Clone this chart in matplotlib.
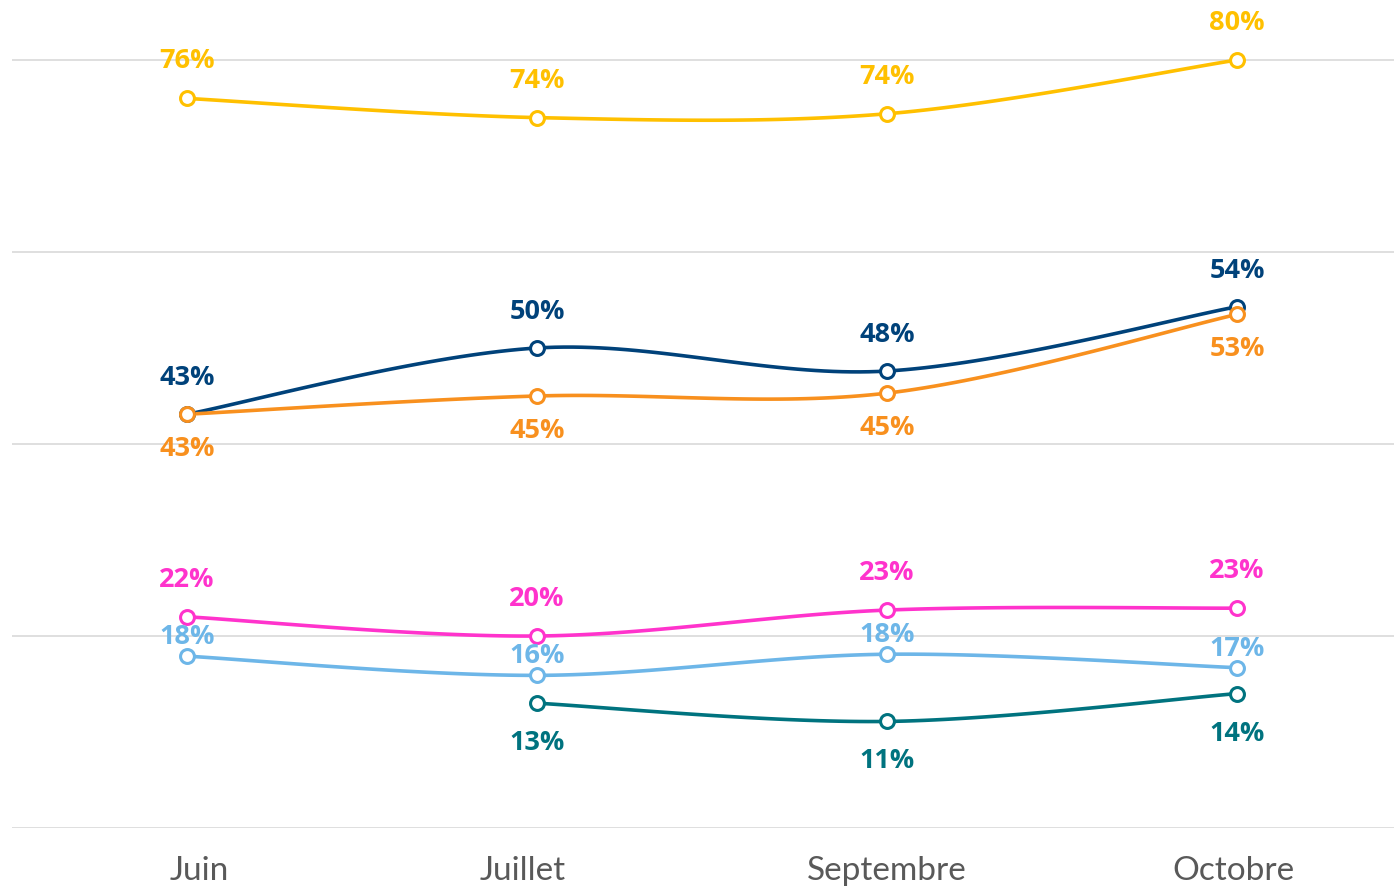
import matplotlib.pyplot as plt
import numpy as np

months = ["Juin", "Juillet", "Septembre", "Octobre"]

yellow_vals = [76.0, 74.0, 74.4, 80.0]
navy_vals = [43.1, 50.0, 47.6, 54.3]
orange_vals = [43.1, 45.0, 45.3, 53.5]
pink_vals = [22.0, 20.0, 22.7, 22.9]
lightblue_vals = [17.9, 15.9, 18.1, 16.7]
teal_vals = [None, 13.0, 11.1, 14.0]

yellow_labels = ["76%", "74%", "74%", "80%"]
navy_labels = ["43%", "50%", "48%", "54%"]
orange_labels = ["43%", "45%", "45%", "53%"]
pink_labels = ["22%", "20%", "23%", "23%"]
lightblue_labels = ["18%", "16%", "18%", "17%"]
teal_labels = [None, "13%", "11%", "14%"]

series = [
    (yellow_vals, yellow_labels, "#FFC000", 37),
    (navy_vals, navy_labels, "#00427A", 36),
    (orange_vals, orange_labels, "#F8901E", -35),
    (pink_vals, pink_labels, "#FF33CC", 37),
    (lightblue_vals, lightblue_labels, "#6DB6E8", 19),
    (teal_vals, teal_labels, "#00737F", -40),
]

plt.rcParams['font.family'] = ['Lato', 'DejaVu Sans']

W, H = 1394, 891
fig = plt.figure(figsize=(W / 100, H / 100), dpi=100)
ax = fig.add_axes([12 / W, (H - 828) / H, 1400 / W, 828 / H])
ax.set_xlim(-0.5, 3.5)
ax.set_ylim(0, 828 / 9.6)

# px scale used for excel-like smoothing
sx, sy = 350.0, 9.6


def smooth(xs, ys, n=40):
    px = np.array(xs) * sx
    py = np.array(ys) * sy
    pts = np.column_stack([px, py])
    out = []
    for i in range(len(pts) - 1):
        p0 = pts[max(i - 1, 0)]
        p1 = pts[i]
        p2 = pts[i + 1]
        p3 = pts[min(i + 2, len(pts) - 1)]
        c1 = p1 + (p2 - p0) / 6
        c2 = p2 - (p3 - p1) / 6
        t = np.linspace(0, 1, n)[:, None]
        seg = (1 - t) ** 3 * p1 + 3 * (1 - t) ** 2 * t * c1 + 3 * (1 - t) * t ** 2 * c2 + t ** 3 * p2
        out.append(seg if i == 0 else seg[1:])
    out = np.vstack(out)
    return out[:, 0] / sx, out[:, 1] / sy


for vals, labels, color, off in series:
    xs = [i for i, v in enumerate(vals) if v is not None]
    ys = [v for v in vals if v is not None]
    cx, cy = smooth(xs, ys)
    ax.plot(cx, cy, color=color, lw=2.6, solid_capstyle='round', zorder=3)
    ax.plot(xs, ys, 'o', ms=10, mfc='white', mec=color, mew=2.2, zorder=4)
    for x, y, lab in zip(xs, ys, [l for l in labels if l is not None]):
        ax.annotate(lab, (x, y), xytext=(0, off), textcoords='offset pixels',
                    ha='center', va='center', color=color, fontsize=19.5,
                    fontweight='bold', family=['Open Sans', 'DejaVu Sans'],
                    zorder=5)

ax.set_yticks([0, 20, 40, 60, 80])
ax.yaxis.grid(True, color='#D9D9D9', lw=1.2)
ax.set_axisbelow(True)
ax.tick_params(axis='y', left=False, labelleft=False)
ax.set_xticks(range(4))
ax.set_xticklabels(months, fontsize=24, color='#595959')
ax.tick_params(axis='x', length=0, pad=20)
# excel places the category labels slightly off the point centres
shifts = [12, -14, 0, -4]
for lab, dx in zip(ax.get_xticklabels(), shifts):
    lab.set_transform(lab.get_transform() + plt.matplotlib.transforms.Affine2D().translate(dx, 0))
for s in ax.spines.values():
    s.set_visible(False)

fig.savefig("out.png", dpi=100)
